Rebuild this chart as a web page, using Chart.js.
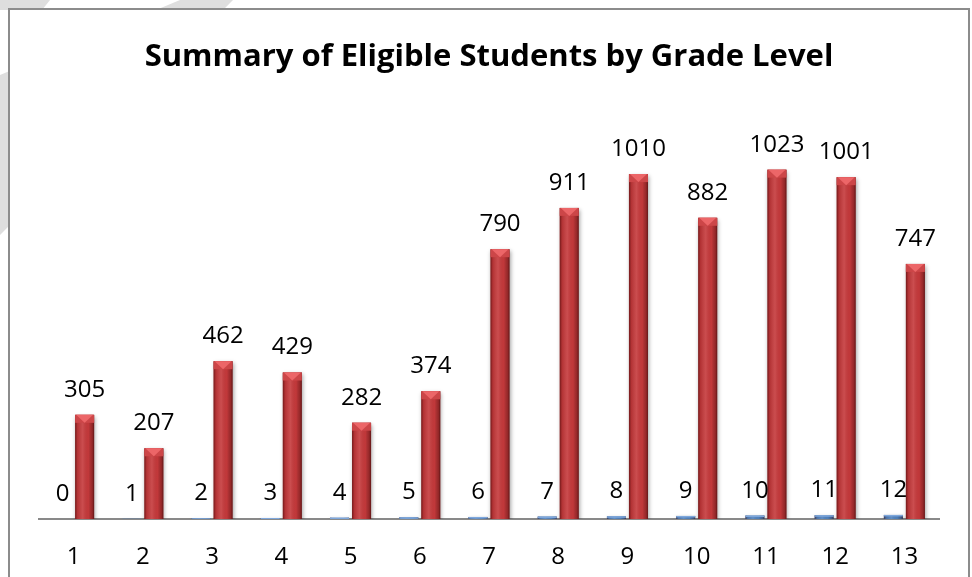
<!DOCTYPE html>
<html>
<head>
<meta charset="utf-8">
<script src="https://cdn.jsdelivr.net/npm/chart.js@4"></script>
<style>
  html, body { margin: 0; padding: 0; background: #ffffff; }
  #wrap { width: 972px; height: 577px; position: relative; }
</style>
</head>
<body>
<div id="wrap"><canvas id="c" width="972" height="577"></canvas></div>
<script>
const categories = ['1','2','3','4','5','6','7','8','9','10','11','12','13'];
const gradeLevels = [0,1,2,3,4,5,6,7,8,9,10,11,12];
const eligibleStudents = [305,207,462,429,282,374,790,911,1010,882,1023,1001,747];
const chartTitle = 'Summary of Eligible Students by Grade Level';

const FONT = 'Open Sans';

const backgroundPlugin = {
  id: 'bgFrame',
  beforeDraw(chart) {
    const ctx = chart.ctx;
    const W = chart.width, H = chart.height;
    ctx.save();
    ctx.fillStyle = '#ffffff';
    ctx.fillRect(0, 0, W, H);
    ctx.fillStyle = '#dedede';
    ctx.beginPath();
    ctx.moveTo(180, 0); ctx.lineTo(233, 0); ctx.lineTo(0, 235); ctx.lineTo(0, 75);
    ctx.closePath(); ctx.fill();
    ctx.beginPath();
    ctx.moveTo(0, 0); ctx.lineTo(50, 0); ctx.lineTo(42, 10); ctx.lineTo(0, 10);
    ctx.closePath(); ctx.fill();
    ctx.fillStyle = '#ffffff';
    ctx.fillRect(9, 9, 960, H);
    ctx.strokeStyle = '#8c8c8c';
    ctx.lineWidth = 2;
    ctx.beginPath();
    ctx.moveTo(9, H + 5); ctx.lineTo(9, 9); ctx.lineTo(969, 9); ctx.lineTo(969, H + 5);
    ctx.stroke();
    ctx.restore();
  }
};

const barStylePlugin = {
  id: 'barStyle',
  beforeDatasetDraw(chart, args) {
    const ctx = chart.ctx;
    ctx.save();
    ctx.shadowColor = 'rgba(0,0,0,0.35)';
    ctx.shadowBlur = 4;
    ctx.shadowOffsetX = 1;
    ctx.shadowOffsetY = 2;
  },
  afterDatasetDraw(chart, args) {
    const ctx = chart.ctx;
    ctx.restore();
    const meta = args.meta;
    const isRed = args.index === 1;
    meta.data.forEach(el => {
      const w = el.width, x0 = el.x - w / 2, x1 = el.x + w / 2;
      const top = el.y, bot = el.base;
      const h = bot - top;
      if (h <= 0.5) return;
      ctx.save();
      const g = ctx.createLinearGradient(x0, 0, x1, 0);
      g.addColorStop(0, 'rgba(50,0,0,0.55)');
      g.addColorStop(0.12, 'rgba(40,0,0,0.12)');
      g.addColorStop(0.4, 'rgba(255,255,255,0.10)');
      g.addColorStop(0.7, 'rgba(0,0,0,0.02)');
      g.addColorStop(0.9, 'rgba(40,0,0,0.3)');
      g.addColorStop(1, 'rgba(30,0,0,0.6)');
      ctx.fillStyle = g;
      ctx.fillRect(x0, top, w, h);
      const bh = Math.min(8, h);
      if (isRed) {
        ctx.fillStyle = '#cc4648';
        ctx.fillRect(x0, top, w, bh);
        ctx.fillStyle = '#ec6668';
        ctx.beginPath();
        ctx.moveTo(x0 + 1, top); ctx.lineTo(x1 - 1, top); ctx.lineTo(el.x, top + bh);
        ctx.closePath(); ctx.fill();
      } else {
        ctx.fillStyle = '#7ea7dc';
        ctx.fillRect(x0, top, w, Math.min(1.5, h));
      }
      ctx.restore();
    });
  }
};

const labelPlugin = {
  id: 'valueLabels',
  afterDatasetsDraw(chart) {
    const ctx = chart.ctx;
    ctx.save();
    ctx.font = '24px "' + FONT + '"';
    ctx.fillStyle = '#000000';
    ctx.textAlign = 'center';
    ctx.textBaseline = 'alphabetic';
    chart.data.datasets.forEach((ds, di) => {
      const meta = chart.getDatasetMeta(di);
      meta.data.forEach((el, i) => {
        ctx.fillText(String(ds.data[i]), el.x, el.y - 18);
      });
    });
    ctx.restore();
  }
};

new Chart(document.getElementById('c'), {
  type: 'bar',
  data: {
    labels: categories,
    datasets: [
      {
        label: 'Grade Level',
        data: gradeLevels,
        backgroundColor: '#4f81bd',
        borderWidth: 0,
        categoryPercentage: 0.636,
        barPercentage: 0.864
      },
      {
        label: 'Eligible Students',
        data: eligibleStudents,
        backgroundColor: '#c5393b',
        borderWidth: 0,
        categoryPercentage: 0.636,
        barPercentage: 0.864
      }
    ]
  },
  options: {
    responsive: false,
    animation: false,
    layout: { padding: { left: 39, right: 33, top: 0, bottom: 9 } },
    plugins: {
      legend: { display: false },
      tooltip: { enabled: false },
      title: {
        display: true,
        text: chartTitle,
        color: '#000000',
        font: { family: FONT, weight: 'bold', size: 31 },
        padding: { top: 39, bottom: 33 }
      }
    },
    scales: {
      x: {
        grid: { display: false, drawTicks: false },
        border: { display: true, color: '#898989', width: 2 },
        ticks: { color: '#000000', font: { family: FONT, size: 24 }, padding: 24, maxRotation: 0 },
        afterFit(scale) { scale.height = 49; }
      },
      y: {
        display: false,
        min: 0,
        max: 1200
      }
    }
  },
  plugins: [backgroundPlugin, barStylePlugin, labelPlugin]
});
</script>
</body>
</html>
